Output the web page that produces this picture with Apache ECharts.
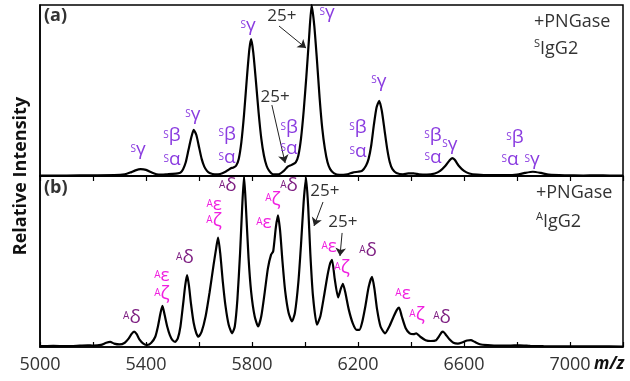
<!DOCTYPE html>
<html><head><meta charset="utf-8">
<script src="https://cdn.jsdelivr.net/npm/echarts@6/dist/echarts.min.js"></script>
<style>html,body{margin:0;padding:0;background:#fff}#c{width:630px;height:381px}</style>
</head><body><div id="c"></div>
<script>
// Panel (a) SIgG2 spectrum: m/z and relative intensity (%)
const mzA = [5000,5100,5200,5280,5320,5340,5360,5380,5400,5420,5440,5460,5480,5500,5520,5530,5540,5550,5560,5570,5580,5590,5600,5610,5620,5630,5640,5660,5680,5700,5710,5720,5730,5740,5750,5760,5770,5780,5790,5797,5805,5815,5825,5835,5845,5855,5865,5880,5900,5920,5935,5950,5965,5975,5985,5995,6005,6015,6025,6035,6045,6055,6065,6075,6085,6095,6110,6130,6160,6180,6200,6215,6230,6240,6250,6260,6270,6280,6290,6300,6310,6320,6330,6345,6370,6390,6410,6430,6460,6490,6510,6530,6545,6555,6565,6580,6600,6620,6650,6700,6760,6800,6830,6860,6890,6920,6980,7050,7100,7150,7200];
const intA = [0.3,0.3,0.4,0.5,1,2,3.3,4,3.6,2.2,1.0,0.8,1,1.2,1.5,2,4,8,15,22,27,24,17,10,5.5,3,1.8,1,1.2,2.5,3.5,4.5,5,6,10,20,36,56,74,80,72,55,37,22,12,6,3,1,1,3,5.5,6.5,8,12,22,38,58,80,100,88,68,46,28,16,8,4,1.5,0.6,1,2,2.5,3,6,10,18,30,40,44,38,27,16,8,4,1.8,1,1.5,1.5,1,0.8,1.5,3,6,9,10.5,9.5,6,3,1.5,0.8,0.5,0.5,0.8,1.8,2.5,1.8,0.8,0.4,0.3,0.4,0.3,0.3];
// Panel (b) AIgG2 spectrum
const mzB = [5000,5050,5100,5150,5180,5200,5230,5250,5265,5280,5300,5320,5335,5345,5355,5365,5375,5390,5405,5420,5435,5445,5455,5462,5470,5480,5490,5500,5510,5520,5530,5540,5548,5555,5562,5570,5580,5590,5598,5610,5625,5640,5655,5665,5672,5680,5690,5700,5712,5725,5735,5745,5755,5763,5770,5777,5787,5797,5810,5823,5835,5848,5860,5872,5880,5890,5898,5906,5915,5925,5938,5951,5962,5975,5985,5995,6004,6012,6020,6030,6045,6058,6072,6085,6095,6102,6112,6125,6135,6143,6152,6165,6180,6195,6205,6215,6228,6240,6253,6262,6272,6285,6302,6318,6335,6348,6355,6365,6380,6395,6410,6420,6435,6455,6475,6495,6505,6515,6521,6530,6545,6560,6577,6595,6612,6626,6640,6660,6690,6730,6770,6810,6850,6900,7000,7100,7200];
const intB = [0.5,0.6,0.5,0.8,1,0.8,1.2,2.5,3,2,1.5,2.5,5,7.5,9,7.5,4.5,2,1.2,2.5,6,12,20,24,19,12,7,4,3,5,12,25,36,42,36,25,14,8,6,9,18,32,48,58,64,55,38,24,13,8,12,28,55,82,100,82,52,32,18,12,18,32,46,54,56,70,77,68,50,33,20,15,20,38,60,85,99,82,55,30,13,18,30,42,49,51,40,29,34,37,32,22,14,10,10,14,24,35,41,34,22,12,8,12,18,22,23,18,11,8,7.5,8,6,4,3.5,4,6,8.5,9,7.5,4.5,2.5,2,2.8,3.8,4,3,1.6,1.1,0.8,0.8,1,0.7,0.5,0.4,0.4,0.3];
// Tick labels on m/z axis
const tickLabels = [5000,5400,5800,6200,6600,7000];
// Peak annotations: [m/z, intensity, superscript, letter]
const annotA = [[5370,14,'S','γ'],[5498,22,'S','β'],[5498,8,'S','α'],[5577,34.5,'S','γ'],[5706,23,'S','β'],[5706,9,'S','α'],[5785,86.5,'S','γ'],[5940,27,'S','β'],[5940,14.6,'S','α'],[6083,94,'S','γ'],[6200,27,'S','β'],[6200,13,'S','α'],[6279,54,'S','γ'],[6483,22,'S','β'],[6483,9,'S','α'],[6547,17,'S','γ'],[6792,21,'S','β'],[6774,8,'S','α'],[6857,8,'S','γ']];
const annotB = [[5347,16,'A','δ'],[5460,40,'A','ε'],[5460,30,'A','ζ'],[5547,51,'A','δ'],[5657,82,'A','ε'],[5657,72.5,'A','ζ'],[5709,93,'A','δ'],[5845,71,'A','ε'],[5879,85,'A','ζ'],[5940,93,'A','δ'],[6091,57,'A','ε'],[6140,45,'A','ζ'],[6238,55,'A','δ'],[6370,30,'A','ε'],[6423,17.5,'A','ζ'],[6517,16,'A','δ']];
// Charge state labels: [m/z, intensity, text]; arrows: [fromMz, fromInt, toMz, toInt]
const chargeA = [[5913,93,'25+'],[5887,46,'25+']];
const arrowsA = [[5902,87.7,6004,74.8],[5875,41.5,5925,7.6]];
const chargeB = [[6075,91,'25+'],[6143,72.5,'25+']];
const arrowsB = [[6068,84.8,6034,70.8],[6140,66.7,6132,53.2]];

const FONT = "'Open Sans', 'DejaVu Sans', sans-serif";
const colorFor = (p, l) => p === 'S' ? '#8a3ce0' : (l === 'δ' ? '#7e1f82' : '#f020e0');

function annotPoints(list, charges) {
  const pts = list.map(a => ({
    coord: [a[0], a[1]],
    symbolSize: 1,
    itemStyle: {color: 'rgba(0,0,0,0)'},
    label: {
      show: true, position: 'inside',
      formatter: '{s|' + a[2] + '}{g|' + a[3] + '}',
      rich: {
        s: {fontSize: 10, fontFamily: FONT, color: colorFor(a[2], a[3]), verticalAlign: 'top', lineHeight: 10},
        g: {fontSize: 19, fontFamily: FONT, color: colorFor(a[2], a[3]), verticalAlign: 'bottom', lineHeight: 15}
      }
    }
  }));
  charges.forEach(c => pts.push({
    coord: [c[0], c[1]], symbolSize: 1, itemStyle: {color: 'rgba(0,0,0,0)'},
    label: {show: true, position: 'inside', formatter: c[2], fontSize: 17, fontFamily: FONT, color: '#333'}
  }));
  return pts;
}
function arrowLines(list) {
  return list.map(a => [{coord: [a[0], a[1]]}, {coord: [a[2], a[3]]}]);
}
function spectrum(mz, it) { return mz.map((m, i) => [m, it[i]]); }

const xBase = {
  type: 'value', min: 5000, max: 7200, interval: 200,
  axisLine: {show: true, lineStyle: {color: '#000', width: 1.5}},
  splitLine: {show: false}
};
const yBase = {
  type: 'value', min: 0, max: 100,
  axisLine: {show: true, lineStyle: {color: '#000', width: 1.5}},
  axisTick: {show: false}, axisLabel: {show: false}, splitLine: {show: false}
};

const chart = echarts.init(document.getElementById('c'), null, {renderer: 'canvas'});
chart.setOption({
  animation: false,
  backgroundColor: '#fff',
  grid: [
    {left: 40, right: 7, top: 5, height: 171, show: true, borderColor: '#000', borderWidth: 1.5},
    {left: 40, right: 7, top: 176, height: 171, show: true, borderColor: '#000', borderWidth: 1.5}
  ],
  xAxis: [
    Object.assign({}, xBase, {gridIndex: 0, axisLabel: {show: false},
      axisTick: {show: true, inside: false, length: 5, lineStyle: {color: '#000', width: 1.2}}}),
    Object.assign({}, xBase, {gridIndex: 1,
      axisTick: {show: true, inside: true, length: 5, lineStyle: {color: '#000', width: 1.2}},
      axisLabel: {show: true, margin: 9, fontSize: 18, fontFamily: FONT, color: '#333',
        formatter: v => tickLabels.indexOf(v) >= 0 ? String(v) : ''}})
  ],
  yAxis: [
    Object.assign({}, yBase, {gridIndex: 0}),
    Object.assign({}, yBase, {gridIndex: 1})
  ],
  series: [
    {type: 'line', xAxisIndex: 0, yAxisIndex: 0, data: spectrum(mzA, intA), showSymbol: false,
      smooth: 0.2, lineStyle: {color: '#000', width: 2.2},
      markPoint: {silent: true, animation: false, data: annotPoints(annotA, chargeA)},
      markLine: {silent: true, animation: false, symbol: ['none', 'arrow'], symbolSize: 8,
        lineStyle: {color: '#222', width: 1, type: 'solid'}, label: {show: false}, data: arrowLines(arrowsA)}},
    {type: 'line', xAxisIndex: 1, yAxisIndex: 1, data: spectrum(mzB, intB), showSymbol: false,
      smooth: 0.2, lineStyle: {color: '#000', width: 2.2},
      markPoint: {silent: true, animation: false, data: annotPoints(annotB, chargeB)},
      markLine: {silent: true, animation: false, symbol: ['none', 'arrow'], symbolSize: 8,
        lineStyle: {color: '#222', width: 1, type: 'solid'}, label: {show: false}, data: arrowLines(arrowsB)}}
  ],
  graphic: [
    {type: 'text', left: 44, top: 7, style: {text: '(a)', font: 'bold 18px ' + FONT, fill: '#333'}},
    {type: 'text', left: 44, top: 179, style: {text: '(b)', font: 'bold 18px ' + FONT, fill: '#333'}},
    {type: 'text', left: 534, top: 13, style: {text: '+PNGase', font: '18px ' + FONT, fill: '#333'}},
    {type: 'text', left: 534, top: 38, style: {text: '{s|S}{m|IgG2}', rich: {
      s: {fontSize: 11, fontFamily: FONT, fill: '#333', verticalAlign: 'top', lineHeight: 11},
      m: {fontSize: 18, fontFamily: FONT, fill: '#333', verticalAlign: 'bottom', lineHeight: 20}}}},
    {type: 'text', left: 536, top: 184, style: {text: '+PNGase', font: '18px ' + FONT, fill: '#333'}},
    {type: 'text', left: 536, top: 211, style: {text: '{s|A}{m|IgG2}', rich: {
      s: {fontSize: 11, fontFamily: FONT, fill: '#333', verticalAlign: 'top', lineHeight: 11},
      m: {fontSize: 18, fontFamily: FONT, fill: '#333', verticalAlign: 'bottom', lineHeight: 20}}}},
    {type: 'text', left: 594, top: 356, style: {text: 'm/z', font: 'italic bold 17px ' + FONT, fill: '#111'}},
    {type: 'text', x: 21, y: 176, rotation: Math.PI / 2, style: {text: 'Relative Intensity', font: 'bold 18px ' + FONT,
      fill: '#111', align: 'center', verticalAlign: 'middle'}}
  ]
});
</script></body></html>
